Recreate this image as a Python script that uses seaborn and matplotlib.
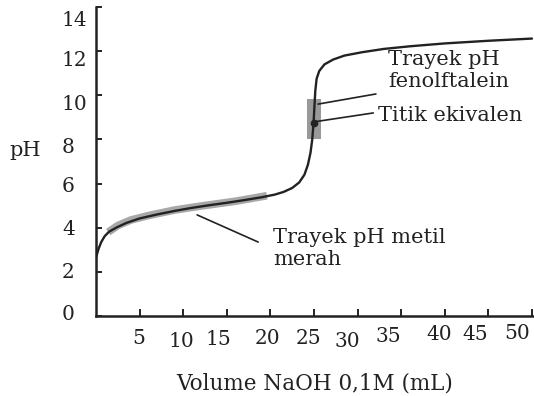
import matplotlib
matplotlib.use('Agg')
import matplotlib.pyplot as plt
import matplotlib.transforms as mtransforms
import seaborn as sns
import pandas as pd

# kurva titrasi CH3COOH dengan NaOH 0,1M
volume = [0, 0.3, 0.6, 1.0, 1.5, 2.4, 3.5, 5, 7, 9, 11, 13, 15, 17, 19, 20.5,
          21.5, 22.5, 23.3, 23.9, 24.3, 24.6, 24.8, 24.95, 25.05, 25.15, 25.3,
          25.6, 26.2, 27.2, 28.5, 30.5, 33, 36, 40, 45, 50]
ph = [2.65, 3.05, 3.35, 3.62, 3.82, 4.02, 4.22, 4.42, 4.6, 4.76, 4.9, 5.02, 5.13,
      5.25, 5.38, 5.5, 5.62, 5.8, 6.05, 6.4, 6.85, 7.4, 8.0, 8.75, 9.5, 10.2,
      10.75, 11.1, 11.4, 11.62, 11.8, 11.95, 12.1, 12.22, 12.35, 12.47, 12.57]

# trayek metil merah (pita abu-abu sepanjang kurva)
mm_volume = [1.4, 2.5, 4, 6, 9, 12, 16, 19.6]
mm_ph = [3.8, 4.1, 4.35, 4.55, 4.8, 4.98, 5.2, 5.45]

# trayek fenolftalein dan titik ekivalen
pp_volume = [24.25, 25.75]
pp_low, pp_high = 8.0, 9.85
eq_volume, eq_ph = 25, 8.75

xticks = [5, 10, 15, 20, 25, 30, 35, 40, 45, 50]
yticks = [0, 2, 4, 6, 8, 10, 12, 14]

df = pd.DataFrame({'volume': volume, 'ph': ph})
df_mm = pd.DataFrame({'volume': mm_volume, 'ph': mm_ph})

sns.set_style('ticks')
plt.rcParams['font.family'] = ['DejaVu Serif']
ink = '#222222'
fs_tick = 14.5
fs_text = 15

fig = plt.figure(figsize=(5.34, 3.96), dpi=100)
ax = fig.add_axes([96/534, 1-316/396, 438/534, 309/396])

# pita abu-abu
sns.lineplot(data=df_mm, x='volume', y='ph', ax=ax, color='#999999', lw=5.5,
             alpha=0.85, solid_capstyle='butt', sort=False)
ax.fill_between(pp_volume, pp_low, pp_high, color='#999999', lw=0)
# kurva titrasi
sns.lineplot(data=df, x='volume', y='ph', ax=ax, color=ink, lw=1.7, sort=False)
ax.plot(eq_volume, eq_ph, 'o', color=ink, ms=4.5)

ax.set_xlim(0, 50.23)
ax.set_ylim(0, 14)
ax.set_xticks(xticks)
ax.set_yticks(yticks)
ax.set_xticklabels([str(v) for v in xticks])
ax.set_yticklabels([str(v) for v in yticks])
sns.despine(ax=ax)
for s in ['left', 'bottom']:
    ax.spines[s].set_linewidth(1.8)
    ax.spines[s].set_color(ink)
ax.tick_params(axis='x', direction='in', length=5, width=1.4, color=ink,
               labelsize=fs_tick, labelcolor=ink, pad=9.5)
ax.tick_params(axis='y', direction='in', length=4, width=1.4, color=ink,
               labelsize=fs_tick, labelcolor=ink, pad=24.5)
plt.setp(ax.get_yticklabels(), ha='left')

# label sumbu x digeser sedikit seperti pada gambar asli
xdx = [-1, -2, -8, -3, -5, -10, -13, -6, -13, -15]
xdy = [0, 3, 1, 0, 0, 3, -2, -4, -4, -5]
for lab, dx, dy in zip(ax.get_xticklabels(), xdx, xdy):
    lab.set_transform(lab.get_transform() +
                      mtransforms.ScaledTranslation(dx/100, -dy/100, fig.dpi_scale_trans))
ydy = [-4, -1, 0, 1, 6, 7, 7, 12]
for lab, dy in zip(ax.get_yticklabels(), ydy):
    lab.set_transform(lab.get_transform() +
                      mtransforms.ScaledTranslation(0, -dy/100, fig.dpi_scale_trans))

ax.set_xlabel('Volume NaOH 0,1M (mL)', fontsize=15.5, color=ink)
ax.xaxis.set_label_coords(0.5, -0.217)
ax.xaxis.label.set_va('center')
ax.set_ylabel('pH', fontsize=fs_text, color=ink, rotation=0)
ax.yaxis.set_label_coords(-0.162, 0.537)
ax.yaxis.label.set_va('center')
ax.yaxis.label.set_ha('center')

# keterangan
line_kw = dict(arrowstyle='-', color=ink, lw=1.2, shrinkA=0, shrinkB=0)
ax.annotate('', xy=(25.46, 9.6), xytext=(32.1, 10.06), arrowprops=line_kw)
ax.annotate('', xy=(24.9, 8.79), xytext=(31.8, 9.2), arrowprops=line_kw)
ax.annotate('', xy=(11.6, 4.58), xytext=(18.6, 3.35), arrowprops=line_kw)
ax.text(33.5, 11.12, 'Trayek pH\nfenolftalein', fontsize=fs_text, color=ink,
        ha='left', va='center', linespacing=1.2)
ax.text(32.3, 9.1, 'Titik ekivalen', fontsize=fs_text, color=ink,
        ha='left', va='center')
ax.text(20.3, 3.06, 'Trayek pH metil\nmerah', fontsize=fs_text, color=ink,
        ha='left', va='center', linespacing=1.25)

fig.savefig('out.png', dpi=100)
